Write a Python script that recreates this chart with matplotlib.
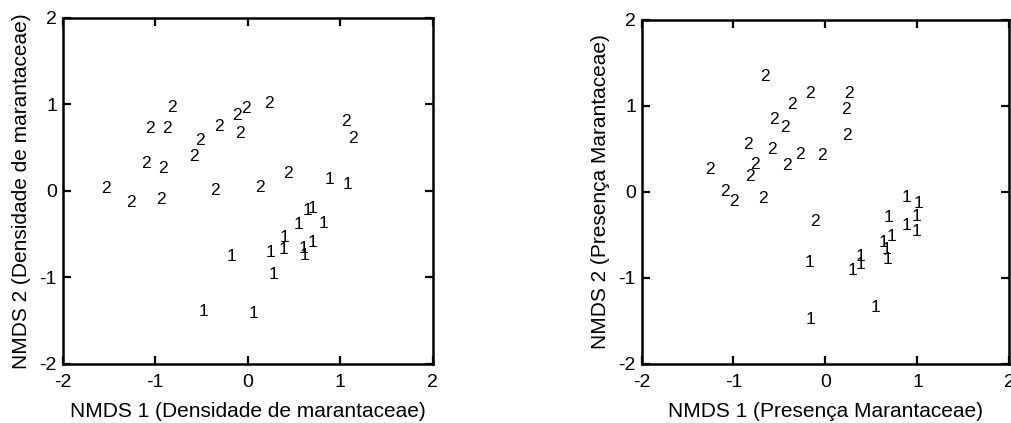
import matplotlib
matplotlib.use("Agg")
import matplotlib.pyplot as plt

plt.rcParams['font.family'] = ['Liberation Sans', 'DejaVu Sans']

# Panel 1: Densidade de marantaceae
dens_x_2 = [-0.815, -1.055, -0.869, -0.116, -0.022, 0.229, -0.313, -0.080, -0.516, -0.578,
            -1.098, -0.916, -1.535, -1.262, -0.935, -0.349, 0.127, 0.429, 1.065, 1.138]
dens_y_2 = [0.965, 0.723, 0.723, 0.877, 0.958, 1.015, 0.742, 0.669, 0.581, 0.400,
            0.319, 0.262, 0.023, -0.131, -0.100, 0.004, 0.046, 0.200, 0.804, 0.612]
dens_x_1 = [0.884, 1.076, 0.648, 0.702, 0.545, 0.818, 0.400, 0.386, 0.248, 0.600,
            0.695, 0.618, -0.171, 0.277, -0.480, 0.058]
dens_y_1 = [0.127, 0.077, -0.227, -0.200, -0.388, -0.381, -0.542, -0.681, -0.707, -0.669,
            -0.592, -0.746, -0.754, -0.969, -1.388, -1.419]

# Panel 2: Presença Marantaceae
pres_x_2 = [-0.661, -0.170, -0.361, 0.253, 0.227, -0.560, -0.444, 0.235, -0.838, -0.585,
            -0.282, -0.036, -0.415, -0.769, -1.256, -0.823, -1.090, -1.000, -0.675, -0.119]
pres_y_2 = [1.338, 1.138, 1.015, 1.138, 0.958, 0.842, 0.746, 0.650, 0.550, 0.496,
            0.435, 0.419, 0.304, 0.312, 0.262, 0.177, 0.004, -0.112, -0.073, -0.350]
pres_x_1 = [0.878, 1.011, 0.686, 0.986, 0.885, 0.993, 0.723, 0.632, 0.668, 0.675,
            0.379, 0.386, 0.299, -0.173, 0.549, -0.162]
pres_y_1 = [-0.062, -0.138, -0.304, -0.284, -0.388, -0.457, -0.523, -0.592, -0.669, -0.792,
            -0.753, -0.842, -0.919, -0.823, -1.342, -1.488]

ticks = [-2, -1, 0, 1, 2]
tick_labels = ['-2', '-1', '0', '1', '2']

fig = plt.figure(figsize=(10.12, 4.23), dpi=100)
ax1 = fig.add_axes([0.0618, 0.1395, 0.3660, 0.8180])
ax2 = fig.add_axes([0.6339, 0.1395, 0.3636, 0.8144])

panels = [
    (ax1, dens_x_1, dens_y_1, dens_x_2, dens_y_2,
     'NMDS 1 (Densidade de marantaceae)', 'NMDS 2 (Densidade de marantaceae)'),
    (ax2, pres_x_1, pres_y_1, pres_x_2, pres_y_2,
     'NMDS 1 (Presença Marantaceae)', 'NMDS 2 (Presença Marantaceae)'),
]

for ax, x1, y1, x2, y2, xl, yl in panels:
    ax.set_xlim(-2, 2)
    ax.set_ylim(-2, 2)
    for x, y in zip(x2, y2):
        ax.text(x, y, '2', ha='center', va='center', fontsize=12.5, color='black')
    for x, y in zip(x1, y1):
        ax.text(x, y, '1', ha='center', va='center', fontsize=12.5, color='black')
    ax.set_xticks(ticks)
    ax.set_xticklabels(tick_labels)
    ax.set_yticks(ticks)
    ax.set_yticklabels(tick_labels)
    ax.tick_params(direction='in', length=6, width=1.6, top=True, right=True,
                   labelsize=14)
    ax.tick_params(axis='x', pad=7)
    ax.tick_params(axis='y', pad=4)
    for s in ax.spines.values():
        s.set_linewidth(1.8)
    ax.set_xlabel(xl, fontsize=15, labelpad=8)
    ax.set_ylabel(yl, fontsize=15, labelpad=6)

fig.savefig('out.png', dpi=100)
